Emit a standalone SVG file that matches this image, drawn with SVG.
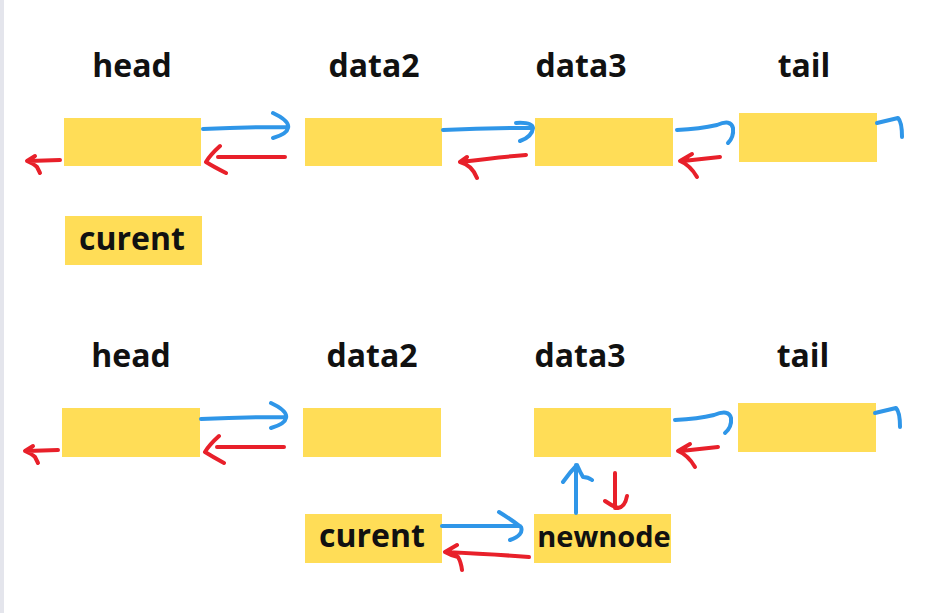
<svg xmlns="http://www.w3.org/2000/svg" width="937" height="613" viewBox="0 0 937 613">
<style>
.box{fill:#ffdd57}
.lbl{font-family:"Open Sans","Liberation Sans",sans-serif;font-weight:bold;font-size:32px;fill:#111;text-anchor:middle}
.b{fill:none;stroke:#2f96e8;stroke-width:4;stroke-linecap:round;stroke-linejoin:round}
.r{fill:none;stroke:#e8202a;stroke-width:4;stroke-linecap:round;stroke-linejoin:round}
</style>
<rect width="937" height="613" fill="#ffffff"/>
<rect x="0" y="0" width="4" height="613" fill="#e4e5ec"/>

<g id="labels-top">
<text class="lbl" x="132" y="77">head</text>
<text class="lbl" x="374" y="77">data2</text>
<text class="lbl" x="581" y="77">data3</text>
<text class="lbl" x="804" y="77">tail</text>
</g>
<g id="labels-bottom">
<text class="lbl" x="131" y="367">head</text>
<text class="lbl" x="372" y="367">data2</text>
<text class="lbl" x="580" y="367">data3</text>
<text class="lbl" x="803" y="367">tail</text>
</g>

<g id="node-head-1"><rect class="box" x="64" y="118" width="137" height="48"/></g>
<g id="node-data2-1"><rect class="box" x="305" y="118" width="137" height="48"/></g>
<g id="node-data3-1"><rect class="box" x="535" y="118" width="138" height="48"/></g>
<g id="node-tail-1"><rect class="box" x="739" y="113" width="138" height="49"/></g>
<g id="node-curent-1"><rect class="box" x="65" y="216" width="137" height="49"/><text class="lbl" x="132" y="250">curent</text></g>

<g id="node-head-2"><rect class="box" x="62" y="408" width="138" height="49"/></g>
<g id="node-data2-2"><rect class="box" x="303" y="408" width="138" height="49"/></g>
<g id="node-data3-2"><rect class="box" x="534" y="408" width="137" height="49"/></g>
<g id="node-tail-2"><rect class="box" x="738" y="403" width="138" height="49"/></g>
<g id="node-curent-2"><rect class="box" x="305" y="514" width="137" height="49"/><text class="lbl" x="372" y="547">curent</text></g>
<g id="node-newnode"><rect class="box" x="534" y="514" width="137" height="49"/><text class="lbl" x="604" y="547" style="font-size:29px">newnode</text></g>

<g id="connectors">
<!-- top row -->
<path class="b" d="M203 129 Q245 127 286 127 M273 113 Q290 121 288 128 Q287 134 273 138"/>
<path class="r" d="M285 157 L218 157 M220 146 Q210 155 206 162 Q214 167 226 173"/>
<path class="r" d="M60 160 L29 161 M35 156 L27 161 Q34 164 37 167 L40 173"/>
<path class="b" d="M443 130 Q485 128 530 128 M516 123 Q532 122 533 128 Q532 137 520 141"/>
<path class="r" d="M526 155 Q500 157 460 162 M467 157 L460 162 Q472 165 477 178"/>
<path class="b" d="M677 130 Q700 129 717 125 Q731 119 733 128 Q734 137 728 143"/>
<path class="r" d="M720 157 L683 161 M692 154 L680 161 Q690 165 697 177"/>
<path class="b" d="M877 123 L898 118 Q902 122 902 137"/>
<!-- bottom row -->
<path class="b" d="M201 419 Q243 417 284 417 M271 403 Q288 411 286 418 Q285 424 271 428"/>
<path class="r" d="M284 447 L217 447 M219 436 Q209 445 205 452 Q213 457 224 463"/>
<path class="r" d="M58 450 L27 451 M33 446 L25 451 Q32 454 35 457 L38 463"/>
<path class="b" d="M675 420 Q698 419 714 415 Q729 409 731 418 Q732 427 725 433"/>
<path class="r" d="M718 447 L681 451 M690 444 L678 451 Q688 455 695 467"/>
<path class="b" d="M875 413 L896 408 Q900 412 900 427"/>
<!-- insertion -->
<path class="b" d="M576 513 L576 465 M563 482 Q570 472 577 465 Q580 472 583 477 Q588 477 592 480"/>
<path class="r" d="M615 473 L615 508 M605 501 Q612 506 618 508 Q625 507 627 496"/>
<path class="b" d="M442 526 L520 526 M499 512 Q512 520 521 527 Q524 535 510 540"/>
<path class="r" d="M529 557 Q490 554 445 552 M457 545 L445 552 Q452 556 458 557 Q461 562 462 570"/>
</g>
</svg>
